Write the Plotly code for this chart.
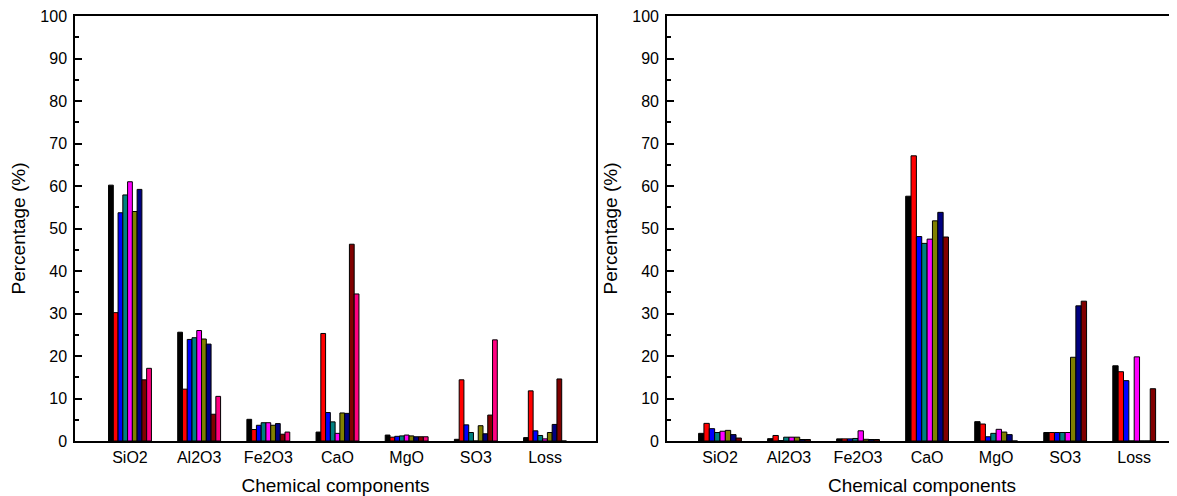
import plotly.graph_objects as go
from plotly.subplots import make_subplots

categories = ["SiO2", "Al2O3", "Fe2O3", "CaO", "MgO", "SO3", "Loss"]

# Left panel: 9 series
left_s1 = [60.2, 25.6, 5.1, 2.1, 1.4, 0.4, 0.8]
left_s2 = [30.2, 12.2, 2.7, 25.3, 0.9, 14.4, 11.8]
left_s3 = [53.7, 23.9, 3.7, 6.7, 1.1, 3.8, 2.4]
left_s4 = [57.9, 24.3, 4.3, 4.5, 1.2, 2.0, 1.3]
left_s5 = [61.0, 26.0, 4.3, 1.8, 1.4, 0.0, 0.5]
left_s6 = [54.0, 24.0, 3.7, 6.6, 1.2, 3.6, 2.0]
left_s7 = [59.2, 22.8, 4.1, 6.5, 1.0, 1.7, 3.9]
left_s8 = [14.4, 6.3, 1.6, 46.3, 1.0, 6.1, 14.6]
left_s9 = [17.1, 10.5, 2.1, 34.6, 1.0, 23.8, 0.0]

# Right panel: 8 series
right_s1 = [1.8, 0.55, 0.5, 57.6, 4.55, 2.0, 17.7]
right_s2 = [4.15, 1.3, 0.5, 67.1, 4.0, 2.0, 16.3]
right_s3 = [2.9, 0.1, 0.5, 48.1, 1.0, 2.0, 14.2]
right_s4 = [2.0, 0.9, 0.6, 46.5, 1.8, 2.0, 0.0]
right_s5 = [2.3, 0.9, 2.4, 47.5, 2.75, 2.0, 19.8]
right_s6 = [2.5, 0.9, 0.4, 51.8, 2.1, 19.7, 0.0]
right_s7 = [1.5, 0.35, 0.35, 53.8, 1.5, 31.8, 0.0]
right_s8 = [0.7, 0.35, 0.35, 48.0, 0.0, 32.9, 12.3]

y_ticks = [0, 10, 20, 30, 40, 50, 60, 70, 80, 90, 100]

colors = ["#000000", "#FF0000", "#0000FF", "#008080", "#FF00FF",
          "#808000", "#000080", "#800000", "#FF0080"]

left_series = [left_s1, left_s2, left_s3, left_s4, left_s5,
               left_s6, left_s7, left_s8, left_s9]
right_series = [right_s1, right_s2, right_s3, right_s4,
                right_s5, right_s6, right_s7, right_s8]

FONT = "Liberation Sans, Arial, sans-serif"

fig = make_subplots(rows=1, cols=2)

for i, vals in enumerate(left_series):
    fig.add_trace(go.Bar(x=categories, y=vals, marker_color=colors[i],
                         marker_line=dict(color="#000000", width=1),
                         showlegend=False), row=1, col=1)
for i, vals in enumerate(right_series):
    fig.add_trace(go.Bar(x=categories, y=vals, marker_color=colors[i],
                         marker_line=dict(color="#000000", width=1),
                         showlegend=False), row=1, col=2)

xcommon = dict(type="category", showline=True, linecolor="#000000", linewidth=1.5,
               mirror=True, ticks="", showgrid=False, zeroline=False,
               tickfont=dict(family=FONT, size=16, color="#000000"),
               title=dict(text="Chemical components",
                          font=dict(family=FONT, size=19, color="#000000"),
                          standoff=14),
               ticklabelstandoff=1)
ycommon = dict(range=[0, 100], tickvals=y_ticks, ticks="inside", ticklen=7,
               tickwidth=1.5, tickcolor="#000000",
               minor=dict(dtick=5, ticks="inside", ticklen=4, tickwidth=1.5,
                          tickcolor="#000000"),
               showline=True, linecolor="#000000", linewidth=1.5,
               showgrid=False, zeroline=False,
               tickfont=dict(family=FONT, size=16, color="#000000"),
               title=dict(text="Percentage (%)",
                          font=dict(family=FONT, size=19, color="#000000"),
                          standoff=10),
               ticklabelstandoff=3, ticklabeloverflow="allow")

fig.update_layout(
    width=1169, height=488,
    margin=dict(l=0, r=0, t=0, b=0, autoexpand=False),
    paper_bgcolor="white", plot_bgcolor="white",
    barmode="group", bargap=0.38, bargroupgap=0,
    xaxis=dict(domain=[0.0573, 0.5030], range=[-0.795, 6.737], **xcommon),
    xaxis2=dict(domain=[0.5637, 1.0], range=[-0.768, 6.62], **xcommon),
    yaxis=dict(domain=[0.1127, 0.9836], mirror=True, **ycommon),
    yaxis2=dict(domain=[0.1127, 0.9836], mirror=False, anchor="x2", **ycommon),
)

fig.write_html("out.html")
